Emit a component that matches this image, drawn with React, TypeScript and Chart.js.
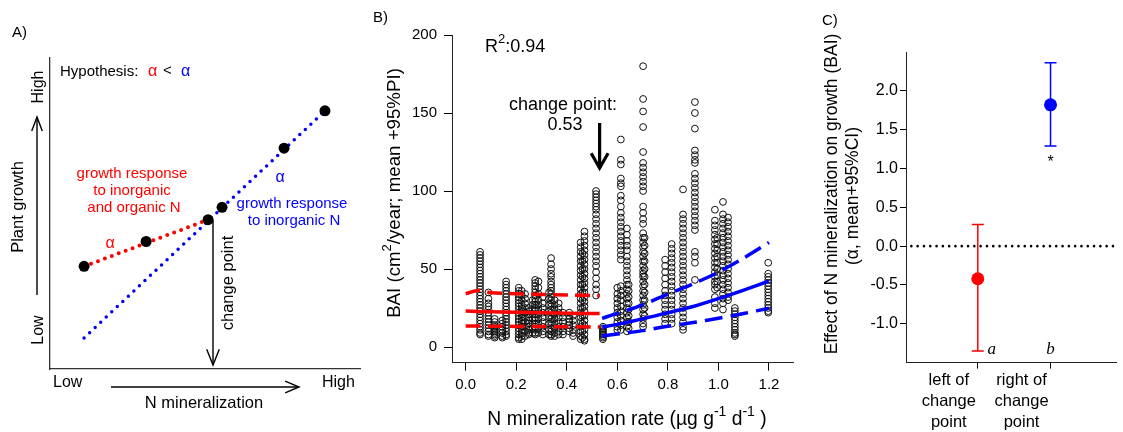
import React, { useEffect, useRef } from "react";
import { Chart, registerables } from "chart.js";
Chart.register(...registerables);

const FONT = '"Liberation Sans", Arial, Helvetica, sans-serif';
const SERIF = '"Liberation Serif", "Times New Roman", serif';
const RED = "#ff0000";
const BLUE = "#0000ff";

// ---------- Panel A: conceptual hypothesis ----------
const conceptX = [11, 31, 51, 55.5, 75.5, 88.7];
const conceptY = [33, 41, 48, 52, 71, 83];
const redLineX = [11, 51];
const redLineY = [33, 48];
const blueLineX = [11, 88.7];
const blueLineY = [10, 83];

// ---------- Panel B: BAI vs N mineralization ----------
const nRate = [
  0.057, 0.09, 0.115, 0.145, 0.16, 0.21, 0.222, 0.235, 0.25, 0.265, 0.275, 0.288, 0.305, 0.33,
  0.338, 0.352, 0.368, 0.385, 0.41, 0.425, 0.455, 0.462, 0.47, 0.516, 0.543, 0.6, 0.614, 0.638,
  0.645, 0.702, 0.708, 0.789, 0.815, 0.86, 0.907, 0.986, 0.995, 1.018, 1.038, 1.065, 1.197,
];
const baiColumns = [
  [61, 59, 57, 55, 53, 51, 49, 47, 45, 43, 41, 39, 37, 35, 33, 31, 29, 27, 25, 23, 21, 19, 17, 15, 13, 11, 9, 8],
  [35, 31, 28, 26, 24, 22, 20, 18, 16, 14, 12, 10, 8, 7],
  [18, 16, 14, 13, 12, 11, 10, 9, 8, 7, 6],
  [17, 15, 13, 11, 9, 7, 6],
  [42, 40, 38, 36, 34, 32, 30, 28, 26, 24, 22, 20, 18, 16, 14, 12, 10, 8, 7],
  [38, 36, 34, 32, 30, 28, 26, 24, 22, 20, 18, 16, 14, 12, 10, 8, 6, 5],
  [36, 33, 30, 27, 25, 23, 21, 19, 17, 15, 13, 11, 9, 7, 5],
  [34, 31, 28, 25, 22, 19, 16, 13, 10, 7],
  [25, 23, 21, 19, 17, 15, 13, 11, 9, 8],
  [30, 27, 24, 21, 18, 15, 12, 9],
  [43, 41, 39, 37, 35, 33, 31, 29, 27, 25, 23, 21, 19, 17, 15, 13, 11, 9, 8],
  [42, 38, 34, 30, 27, 24, 21, 18, 15, 12, 9],
  [32, 28, 25, 22, 19, 16, 13, 10, 8],
  [35, 31, 27, 23, 19, 15, 11, 8],
  [57, 53, 50, 47, 45, 42, 40, 38, 36, 34, 32, 30, 28, 26, 24, 22, 20, 18, 16, 14, 12, 10, 8, 7],
  [30, 27, 24, 21, 18, 15, 12, 9, 7],
  [28, 25, 22, 19, 16, 13, 10, 8],
  [22, 19, 16, 13, 10, 8],
  [22, 20, 18, 16, 14, 12, 10],
  [20, 17, 14, 11, 9, 7],
  [67, 64, 61, 58, 55, 52, 49, 46, 43, 40, 37, 34, 31, 28, 25, 22, 19, 16, 13, 10, 7, 5],
  [60, 55, 50, 45, 40, 35, 30, 25, 20, 15, 10, 6],
  [74, 71, 68, 65, 62, 59, 56, 53, 50, 47, 44, 41, 38, 35, 32, 29, 26, 23, 20, 17, 14, 11, 8, 5, 4],
  [100, 98, 96, 94, 92, 90, 88, 85, 82, 79, 76, 73, 70, 67, 64, 61, 58, 55, 52, 48, 44, 40, 37, 33],
  [13, 12, 11, 10, 9, 8, 7, 6, 5],
  [38, 34, 31, 28, 25, 22, 19, 16, 13, 11],
  [133, 120, 117, 108, 105, 103, 97, 94, 90, 86, 83, 80, 77, 74, 71, 68, 65, 62, 59, 56, 39, 36, 33, 30, 26, 23, 20, 17, 14, 11],
  [76, 72, 68, 65, 62, 58, 55, 52, 49, 46, 43, 40, 37, 34, 31, 28, 25, 22, 19, 16, 13, 10],
  [40, 36, 32, 28, 24, 20, 16, 12],
  [180, 159, 151, 141, 125, 118, 115, 112, 109, 106, 103, 100, 90, 86, 82, 79, 73, 70, 67, 64, 61, 58, 55, 52, 49, 47, 45, 42, 39, 36, 33, 30, 27, 24, 21, 18, 15, 13],
  [70, 65, 60, 55, 50, 45, 40, 35, 30, 25, 20],
  [56, 52, 48, 44, 40, 36, 33, 30, 27, 24, 21, 18, 15],
  [66, 63, 60, 57, 54, 51, 48, 45, 42, 39, 36, 33, 30, 27, 24, 21, 18, 15],
  [101, 85, 82, 79, 76, 73, 70, 67, 64, 61, 58, 55, 52, 49, 46, 43, 40, 37, 34, 31, 28, 25, 22, 19, 16, 13, 11],
  [157, 150, 140, 126, 123, 120, 118, 111, 108, 105, 102, 99, 96, 93, 90, 87, 84, 81, 78, 75, 61, 58, 54, 43],
  [88, 81, 78, 75, 72, 69, 66, 63, 60, 57, 54, 51, 48, 45, 42, 40, 37, 32, 28, 25],
  [70, 66, 62, 58, 54, 50, 46, 42, 38],
  [93, 85, 82, 79, 76, 73, 70, 67, 64, 61, 58, 55, 52, 49, 46, 43, 40, 37, 34, 31, 28, 24],
  [83, 80, 77, 74, 71, 68, 65, 62, 59, 56, 53, 50, 47, 44, 41, 38, 35, 32, 30],
  [25, 23, 21, 19, 17, 15, 13, 11, 9, 8, 7],
  [54, 47, 45, 43, 41, 39, 37, 35, 33, 31, 29, 27, 25, 23, 22],
];
const fitLeftX = [0, 0.05, 0.1, 0.2, 0.3, 0.4, 0.53];
const fitLeftMean = [23, 22.8, 22.6, 22.3, 22, 21.7, 21.4];
const fitLeftUpper = [34.2, 36.2, 34.8, 34.2, 33.7, 33.3, 32.9];
const fitLeftLower = [13.5, 13.4, 13.3, 13.2, 13.1, 13, 12.8];
const fitRightX = [0.54, 0.6, 0.7, 0.8, 0.9, 1.0, 1.1, 1.2];
const fitRightMean = [12.7, 14.5, 18, 22, 26, 31, 36.5, 42.3];
const fitRightUpper = [18.4, 21.5, 27, 34, 40.5, 48, 57, 67];
const fitRightLower = [7, 8.3, 10.5, 13.3, 15.7, 18.4, 21.5, 24.8];
const bTicksX = [0, 0.2, 0.4, 0.6, 0.8, 1.0, 1.2];
const bTicksY = [0, 50, 100, 150, 200];
const changePoint = 0.53;
const r2Value = "0.94";

// ---------- Panel C: effect sizes ----------
const groupLabels = [
  ["left of", "change", "point"],
  ["right of", "change", "point"],
];
const alphaMean = [-0.42, 1.82];
const ciLow = [-1.35, 1.29];
const ciHigh = [0.28, 2.36];
const groupLetters = ["a", "b"];
const groupColors = [RED, BLUE];
const cTicksY = [-1, -0.5, 0, 0.5, 1, 1.5, 2];

type Pt = { x: number; y: number };
const zip = (xs: number[], ys: number[]): Pt[] => xs.map((x, i) => ({ x, y: ys[i] }));

function text(
  ctx: CanvasRenderingContext2D,
  t: string,
  x: number,
  y: number,
  size: number,
  color = "#000",
  align: CanvasTextAlign = "center",
  rot = 0,
  family = FONT,
  style = ""
) {
  ctx.save();
  ctx.translate(x, y);
  if (rot) ctx.rotate(rot);
  ctx.font = `${style} ${size}px ${family}`;
  ctx.fillStyle = color;
  ctx.textAlign = align;
  ctx.textBaseline = "middle";
  ctx.fillText(t, 0, 0);
  ctx.restore();
}

type Part = { t: string; sup?: boolean };
function rich(ctx: CanvasRenderingContext2D, parts: Part[], cx: number, cy: number, size: number, rot = 0, align = "center") {
  ctx.save();
  ctx.translate(cx, cy);
  if (rot) ctx.rotate(rot);
  ctx.textBaseline = "middle";
  ctx.textAlign = "left";
  ctx.fillStyle = "#000";
  const supSize = Math.round(size * 0.7);
  let total = 0;
  const widths = parts.map((p) => {
    ctx.font = `${p.sup ? supSize : size}px ${FONT}`;
    const w = ctx.measureText(p.t).width;
    total += w;
    return w;
  });
  let x = align === "center" ? -total / 2 : 0;
  parts.forEach((p, i) => {
    ctx.font = `${p.sup ? supSize : size}px ${FONT}`;
    ctx.fillText(p.t, x, p.sup ? -size * 0.4 : 0);
    x += widths[i];
  });
  ctx.restore();
}

function arrow(
  ctx: CanvasRenderingContext2D,
  x1: number,
  y1: number,
  x2: number,
  y2: number,
  head: number,
  half: number,
  width: number
) {
  ctx.save();
  ctx.strokeStyle = "#000";
  ctx.lineWidth = width;
  ctx.lineCap = "butt";
  ctx.lineJoin = "miter";
  const a = Math.atan2(y2 - y1, x2 - x1);
  ctx.beginPath();
  ctx.moveTo(x1, y1);
  ctx.lineTo(x2, y2);
  ctx.stroke();
  ctx.beginPath();
  ctx.moveTo(x2 - head * Math.cos(a - half), y2 - head * Math.sin(a - half));
  ctx.lineTo(x2, y2);
  ctx.lineTo(x2 - head * Math.cos(a + half), y2 - head * Math.sin(a + half));
  ctx.stroke();
  ctx.restore();
}

const base = {
  responsive: false,
  animation: false as const,
  devicePixelRatio: 1,
  events: [] as any[],
};

function makeA(): any {
  const annot = {
    id: "annotA",
    afterDraw(chart: any) {
      const ctx = chart.ctx as CanvasRenderingContext2D;
      text(ctx, "A)", 12, 33, 15, "#000", "left");
      text(ctx, "Hypothesis:", 60, 72, 15, "#000", "left");
      text(ctx, "α", 148, 72, 16, RED, "left");
      text(ctx, "<", 163, 71, 15, "#000", "left");
      text(ctx, "α", 181, 72, 16, BLUE, "left");
      text(ctx, "High", 39, 87, 16, "#000", "center", -Math.PI / 2);
      text(ctx, "Low", 39, 330, 16, "#000", "center", -Math.PI / 2);
      text(ctx, "Plant growth", 18, 207, 16.5, "#000", "center", -Math.PI / 2);
      arrow(ctx, 37, 295, 37, 117, 15, 0.36, 1.4);
      text(ctx, "Low", 53, 383, 16, "#000", "left");
      text(ctx, "High", 322, 383, 16, "#000", "left");
      arrow(ctx, 111, 387, 299, 387, 15, 0.4, 1.4);
      text(ctx, "N mineralization", 204, 403, 16.5);
      text(ctx, "growth response", 132, 174, 15, RED);
      text(ctx, "to inorganic", 132, 191, 15, RED);
      text(ctx, "and organic N", 134, 208, 15, RED);
      text(ctx, "α", 110, 244, 16, RED);
      text(ctx, "α", 280, 178, 16, BLUE);
      text(ctx, "growth response", 292, 204, 15, BLUE);
      text(ctx, "to inorganic N", 294, 221, 15, BLUE);
      arrow(ctx, 213, 220, 213, 365, 17, 0.38, 1.4);
      text(ctx, "change point", 228, 283, 16.5, "#000", "center", -Math.PI / 2);
    },
  };
  return {
    type: "scatter",
    data: {
      datasets: [
        {
          data: zip(conceptX, conceptY),
          pointRadius: 5.5,
          backgroundColor: "#000",
          borderColor: "#000",
          borderWidth: 0,
          order: 0,
        },
        {
          data: zip(redLineX, redLineY),
          showLine: true,
          borderColor: RED,
          borderWidth: 4,
          borderDash: [0, 7.4],
          borderCapStyle: "round",
          pointRadius: 0,
          order: 1,
        },
        {
          data: zip(blueLineX, blueLineY),
          showLine: true,
          borderColor: BLUE,
          borderWidth: 3.5,
          borderDash: [0, 7.6],
          borderCapStyle: "round",
          pointRadius: 0,
          order: 2,
        },
      ],
    },
    options: {
      ...base,
      layout: { padding: { left: 50, top: 58, right: 10, bottom: 63 } },
      plugins: { legend: { display: false }, tooltip: { enabled: false } },
      scales: {
        x: {
          type: "linear",
          min: 0,
          max: 100,
          ticks: { display: false },
          grid: { display: false },
          border: { display: true, color: "#333", width: 1.3 },
          afterFit: (s: any) => {
            s.height = 0;
          },
        },
        y: {
          type: "linear",
          min: 0,
          max: 100,
          ticks: { display: false },
          grid: { display: false },
          border: { display: true, color: "#333", width: 1.3 },
          afterFit: (s: any) => {
            s.width = 0;
          },
        },
      },
    },
    plugins: [annot],
  };
}

function makeB(): any {
  const points: Pt[] = baiColumns.flatMap((col, i) => col.map((y) => ({ x: nRate[i], y })));
  const annot = {
    id: "annotB",
    afterDraw(chart: any) {
      const ctx = chart.ctx as CanvasRenderingContext2D;
      const xs = chart.scales.x;
      text(ctx, "B)", 3, 18, 15, "#000", "left");
      rich(ctx, [{ t: "R" }, { t: "2", sup: true }, { t: ":" + r2Value }], 115, 47, 18, 0, "left");
      text(ctx, "change point:", 193, 105, 18);
      text(ctx, changePoint.toFixed(2), 195, 125, 18);
      const ax = xs.getPixelForValue(changePoint);
      arrow(ctx, ax, 123, ax, 168, 17, 0.52, 3.2);
      rich(
        ctx,
        [{ t: "BAI (cm" }, { t: "2", sup: true }, { t: "/year; mean +95%PI)" }],
        25,
        193,
        18.7,
        -Math.PI / 2
      );
      rich(
        ctx,
        [{ t: "N mineralization rate (µg g" }, { t: "-1", sup: true }, { t: " d" }, { t: "-1", sup: true }, { t: " )" }],
        257,
        420,
        19.3
      );
    },
  };
  const fit = (xs: number[], ys: number[], color: string, dash: number[] | undefined, order: number) => ({
    data: zip(xs, ys),
    showLine: true,
    borderColor: color,
    borderWidth: 3.5,
    borderDash: dash || [],
    borderCapStyle: "butt",
    pointRadius: 0,
    tension: 0.3,
    order,
  });
  return {
    type: "scatter",
    data: {
      datasets: [
        fit(fitLeftX, fitLeftMean, RED, undefined, 0),
        fit(fitLeftX, fitLeftUpper, RED, [15, 7], 1),
        fit(fitLeftX, fitLeftLower, RED, [15, 7], 2),
        fit(fitRightX, fitRightMean, BLUE, undefined, 3),
        fit(fitRightX, fitRightUpper, BLUE, [18, 8], 4),
        fit(fitRightX, fitRightLower, BLUE, [18, 8], 5),
        {
          data: points,
          pointRadius: 3.4,
          pointBorderWidth: 1,
          borderColor: "#000",
          backgroundColor: "rgba(0,0,0,0)",
          pointBorderColor: "#111",
          pointBackgroundColor: "rgba(0,0,0,0)",
          order: 10,
        },
      ],
    },
    options: {
      ...base,
      layout: { padding: { left: 0, top: 35, right: 7, bottom: 0 } },
      plugins: { legend: { display: false }, tooltip: { enabled: false } },
      scales: {
        x: {
          type: "linear",
          min: -0.054,
          max: 1.295,
          afterBuildTicks: (s: any) => {
            s.ticks = bTicksX.map((v) => ({ value: v }));
          },
          ticks: {
            callback: (v: any) => Number(v).toFixed(1),
            font: { family: FONT, size: 15 },
            color: "#000",
            padding: 5,
            maxRotation: 0,
          },
          grid: { display: true, drawOnChartArea: false, drawTicks: true, tickLength: 8, color: "#000" },
          border: { display: true, color: "#222", width: 1 },
          afterFit: (s: any) => {
            s.height = 69.4;
          },
        },
        y: {
          type: "linear",
          min: -10,
          max: 200,
          afterBuildTicks: (s: any) => {
            s.ticks = bTicksY.map((v) => ({ value: v }));
          },
          ticks: {
            callback: (v: any) => String(v),
            font: { family: FONT, size: 15 },
            color: "#000",
            padding: 7,
          },
          grid: { display: true, drawOnChartArea: false, drawTicks: true, tickLength: 8, color: "#000" },
          border: { display: true, color: "#222", width: 1 },
          afterFit: (s: any) => {
            s.width = 82;
          },
        },
      },
    },
    plugins: [annot],
  };
}

function makeC(): any {
  const errorBars = {
    id: "errorBars",
    afterDatasetsDraw(chart: any) {
      const ctx = chart.ctx as CanvasRenderingContext2D;
      const xs = chart.scales.x;
      const ys = chart.scales.y;
      ctx.save();
      alphaMean.forEach((_, i) => {
        const x = xs.getPixelForValue(i + 1);
        const y1 = ys.getPixelForValue(ciLow[i]);
        const y2 = ys.getPixelForValue(ciHigh[i]);
        ctx.strokeStyle = groupColors[i];
        ctx.lineWidth = 1.5;
        ctx.beginPath();
        ctx.moveTo(x, y1);
        ctx.lineTo(x, y2);
        ctx.moveTo(x - 6, y1);
        ctx.lineTo(x + 6, y1);
        ctx.moveTo(x - 6, y2);
        ctx.lineTo(x + 6, y2);
        ctx.stroke();
      });
      ctx.restore();
    },
    afterDraw(chart: any) {
      const ctx = chart.ctx as CanvasRenderingContext2D;
      const xs = chart.scales.x;
      const ys = chart.scales.y;
      text(ctx, "C)", 22, 21, 15, "#000", "left");
      const ly = ys.getPixelForValue(-1.33);
      text(ctx, groupLetters[0], xs.getPixelForValue(1) + 14, ly, 17, "#000", "center", 0, SERIF, "italic");
      text(ctx, groupLetters[1], xs.getPixelForValue(2), ly, 17, "#000", "center", 0, SERIF, "italic");
      text(ctx, "*", xs.getPixelForValue(2), ys.getPixelForValue(1.08), 16);
      text(ctx, "Effect of N mineralization on growth (BAI)", 32, 194, 17.5, "#000", "center", -Math.PI / 2);
      text(ctx, "(α, mean+95%CI)", 53, 196, 17.5, "#000", "center", -Math.PI / 2);
    },
  };
  return {
    type: "scatter",
    data: {
      datasets: [
        {
          data: alphaMean.map((y, i) => ({ x: i + 1, y })),
          pointRadius: 6.5,
          backgroundColor: groupColors,
          borderColor: groupColors,
          pointBackgroundColor: groupColors,
          pointBorderColor: groupColors,
          borderWidth: 0,
          order: 0,
        },
        {
          data: [
            { x: 0, y: 0 },
            { x: 3, y: 0 },
          ],
          showLine: true,
          borderColor: "#000",
          borderWidth: 2.6,
          borderDash: [0, 6.3],
          borderCapStyle: "round",
          pointRadius: 0,
          order: 5,
        },
      ],
    },
    options: {
      ...base,
      layout: { padding: { left: 0, top: 52, right: 0, bottom: 0 } },
      plugins: { legend: { display: false }, tooltip: { enabled: false } },
      scales: {
        x: {
          type: "linear",
          min: 0.013,
          max: 2.907,
          afterBuildTicks: (s: any) => {
            s.ticks = [{ value: 1 }, { value: 2 }];
          },
          ticks: {
            callback: (_v: any, i: number) => groupLabels[i],
            font: { family: FONT, size: 16.5, lineHeight: 1.28 },
            color: "#000",
            padding: 1,
            labelOffset: -29,
            maxRotation: 0,
          },
          grid: { display: true, drawOnChartArea: false, drawTicks: true, tickLength: 6, color: "#000" },
          border: { display: true, color: "#222", width: 1 },
          afterFit: (s: any) => {
            s.height = 69.4;
          },
        },
        y: {
          type: "linear",
          min: -1.5,
          max: 2.5,
          afterBuildTicks: (s: any) => {
            s.ticks = cTicksY.map((v) => ({ value: v }));
          },
          ticks: {
            callback: (v: any) => Number(v).toFixed(1),
            font: { family: FONT, size: 16 },
            color: "#000",
            padding: 2,
          },
          grid: { display: true, drawOnChartArea: false, drawTicks: true, tickLength: 6, color: "#000" },
          border: { display: true, color: "#222", width: 1 },
          afterFit: (s: any) => {
            s.width = 106;
          },
        },
      },
    },
    plugins: [errorBars],
  };
}

function Panel({ left, width, make }: { left: number; width: number; make: () => any }) {
  const ref = useRef<HTMLCanvasElement>(null);
  useEffect(() => {
    const chart = new Chart(ref.current as HTMLCanvasElement, make());
    return () => chart.destroy();
  }, []);
  return (
    <canvas
      ref={ref}
      width={width}
      height={432}
      style={{ position: "absolute", left, top: 0, width, height: 432 }}
    />
  );
}

export default function App() {
  return (
    <div
      style={{
        position: "absolute",
        left: 0,
        top: 0,
        width: 1123,
        height: 432,
        background: "#fff",
        overflow: "hidden",
      }}
    >
      <Panel left={0} width={370} make={makeA} />
      <Panel left={370} width={430} make={makeB} />
      <Panel left={800} width={323} make={makeC} />
    </div>
  );
}
